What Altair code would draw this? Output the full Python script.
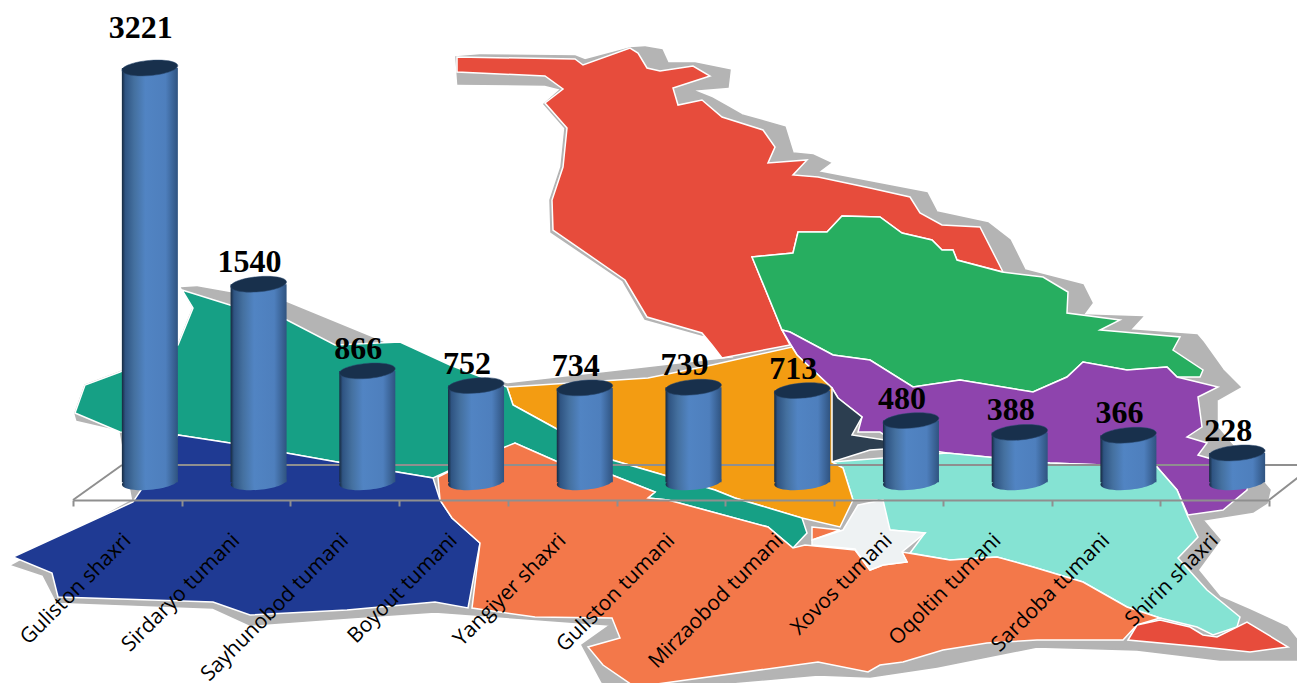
import altair as alt
import pandas as pd

# --- chart values -----------------------------------------------------------
categories = ["Guliston shaxri", "Sirdaryo tumani", "Sayhunobod tumani", "Boyout tumani",
              "Yangiyer shaxri", "Guliston tumani", "Mirzaobod tumani", "Xovos tumani",
              "Oqoltin tumani", "Sardoba tumani", "Shirin shaxri"]
values = [3221, 1540, 866, 752, 734, 739, 713, 480, 388, 366, 228]

# --- backdrop map outlines (picture coordinates) ------------------------------
shadow = [(630,48),(645,47),(662,50),(668,63),(695,63),(730,70),(728,87),(692,90),(712,98),(728,107),(742,115),
          (785,127),(793,153),(813,155),(830,163),(818,172),(870,182),(927,193),(937,212),(988,223),(1010,240),
          (1025,270),(1083,285),(1092,303),(1083,315),(1142,317),(1130,330),(1197,335),(1203,342),(1223,370),
          (1240,387),(1217,400),(1217,427),(1270,490),(1267,503),(1253,512),(1203,520),(1220,540),(1198,570),
          (1220,597),(1250,610),(1287,627),(1305,650),(1297,660),(1220,660),(1137,650),(1037,647),(937,667),
          (870,677),(818,675),(635,691),(602,682),(582,645),(610,625),(435,612),(347,618),(250,625),(213,608),
          (57,602),(43,575),(13,565),(133,500),(120,430),(77,420),(75,413),(85,385),(120,372),(178,345),(193,308),
          (182,288),(197,287),(287,303),(377,340),(445,368),(507,384),(735,358),(712,336),(702,335),(645,319),
          (623,281),(551,232),(550,200),(561,167),(565,128),(544,104),(561,89),(545,85),(458,84),(456,57),
          (480,55),(575,56),(585,60)]
red_north = [(457,57),(575,59),(583,65),(630,48),(638,53),(647,68),(660,71),(693,66),(710,76),(673,88),(678,105),
             (702,100),(722,117),(763,130),(775,147),(768,163),(807,160),(793,175),(818,177),(870,188),(910,197),
             (920,213),(942,225),(980,227),(1003,272),(957,260),(953,250),(942,250),(932,240),(902,233),(880,217),
             (842,216),(827,232),(798,232),(793,253),(752,257),(782,330),(790,345),(722,358),(712,345),(702,333),
             (647,317),(625,280),(553,230),(552,200),(563,167),(567,128),(545,103),(563,89),(545,76),(457,72)]
green = [(752,257),(793,253),(798,232),(827,232),(842,216),(880,217),(902,233),(932,240),(942,250),(953,250),
         (957,260),(1002,272),(1043,277),(1068,292),(1067,313),(1120,320),(1100,330),(1180,337),(1173,350),
         (1203,370),(1200,377),(1177,377),(1167,367),(1127,370),(1083,362),(1067,377),(1033,392),(960,380),
         (913,387),(870,360),(833,355),(790,332),(782,330)]
purple = [(782,330),(790,332),(833,355),(870,360),(913,387),(960,380),(1033,392),(1067,377),(1083,362),(1127,370),
          (1167,367),(1177,377),(1218,387),(1198,397),(1202,427),(1187,437),(1207,443),(1198,455),(1250,470),
          (1247,490),(1223,510),(1188,515),(1177,490),(1157,467),(1050,463),(947,453),(900,445),(880,432),
          (858,432),(862,417),(838,398),(832,388),(797,355)]
slate = [(832,388),(838,398),(862,417),(852,435),(885,440),(900,448),(870,450),(832,462),(790,440)]
amber = [(507,387),(648,378),(712,365),(792,347),(797,355),(832,388),(832,462),(843,468),(853,500),(840,527),
         (802,518),(735,498),(715,490),(612,460),(555,428),(513,405)]
teal_green = [(182,290),(230,305),(287,320),(335,345),(400,342),(450,365),(507,387),(513,405),(555,428),(612,460),
              (715,490),(735,498),(802,518),(807,533),(793,548),(768,527),(668,500),(648,498),(655,492),(612,475),
              (558,462),(515,443),(505,448),(468,462),(433,478),(337,462),(230,443),(178,435),(120,432),(75,413),
              (85,385),(120,372),(178,345),(193,308)]
navy = [(178,435),(230,443),(337,462),(433,478),(440,500),(452,518),(480,543),(468,608),(435,602),(347,610),
        (250,615),(213,602),(58,597),(52,573),(13,557),(133,502)]
coral = [(438,477),(468,462),(505,447),(515,443),(558,462),(612,475),(655,492),(648,498),(668,500),(768,527),
         (793,548),(805,545),(855,550),(870,570),(883,565),(907,562),(902,552),(950,560),(997,557),(1033,567),
         (1083,582),(1127,607),(1160,618),(1137,625),(1123,640),(1037,640),(987,643),(943,650),(903,662),
         (880,665),(868,672),(818,662),(635,687),(603,665),(588,647),(620,638),(612,618),(535,617),(472,608),
         (480,543),(452,518),(440,500)]
coral_sliver = [(812,527),(840,530),(812,540)]
aqua = [(832,462),(947,453),(1050,463),(1157,467),(1177,490),(1188,517),(1198,537),(1178,558),(1207,590),(1240,617),
        (1237,627),(1213,635),(1197,627),(1160,618),(1127,607),(1083,582),(1033,567),(997,557),(950,560),(910,553),
        (925,533),(890,530),(877,500),(853,500),(843,468)]
pale = [(858,505),(883,500),(890,530),(925,533),(902,552),(907,562),(883,565),(870,570),(855,549),(812,545),
        (812,540),(843,530)]
red_south = [(1128,640),(1137,625),(1160,620),(1190,627),(1203,635),(1217,637),(1247,622),(1288,647),(1250,652),(1203,647)]

regions = [shadow, red_north, green, purple, slate, aqua, amber, teal_green, navy, coral, coral_sliver, pale, red_south]
region_fill = ["#b4b4b4", "#e74c3c", "#27ae60", "#8e44ad", "#2c3e50", "#85e3d3", "#f39c12", "#16a085", "#1f3a93",
               "#f3784a", "#f3784a", "#eef2f3", "#e74c3c"]
floor_lines = [[(122,465),(1305,465)], [(73,500),(122,465)], [(1269,500),(1305,472)]]

def ring(pts):
    return [[list(p) for p in pts] + [list(pts[0])]]

features = [{"type": "Feature", "geometry": {"type": "Polygon", "coordinates": ring(r)},
             "properties": {"fill": f, "line": "#ffffff" if i else "#b4b4b4"}}
            for i, (r, f) in enumerate(zip(regions, region_fill))]
line_features = [{"type": "Feature", "properties": {"n": i},
                  "geometry": {"type": "LineString", "coordinates": [list(p) for p in l]}}
                 for i, l in enumerate(floor_lines)]

map_layer = alt.Chart(alt.Data(values=features)).mark_geoshape(strokeWidth=1.5, clip=False).encode(
    fill=alt.Fill("properties.fill:N", scale=None),
    stroke=alt.Stroke("properties.line:N", scale=None),
).project(type="identity", scale=1, translate=[-8, -8])
floor_layer = alt.Chart(alt.Data(values=line_features)).mark_geoshape(
    filled=False, stroke="#8f8f8f", strokeWidth=2, clip=False
).project(type="identity", scale=1, translate=[-8, -8])

df = pd.DataFrame({"category": categories, "value": values, "zero": [0] * len(values)})

x = alt.X("category:N", sort=categories,
          scale=alt.Scale(domain=categories, range=[65, 1261], paddingInner=0, paddingOuter=0),
          axis=alt.Axis(title=None, labelAngle=315, labelAlign="right", labelBaseline="middle",
                        labelFont="Open Sans", labelFontSize=21, labelColor="#000000", labelPadding=31,
                        labelOverlap=False, labelLimit=400, tickBand="extent", tickSize=6, tickWidth=2,
                        tickColor="#8f8f8f", domainColor="#8f8f8f", domainWidth=2, grid=False, zindex=1))
y_scale = alt.Scale(domain=[0, 3221], range=[474.3, 60], nice=False, zero=True)
y = alt.Y("value:Q", scale=y_scale, axis=None)
y0 = alt.Y("zero:Q", scale=y_scale, axis=None)

cyl = alt.LinearGradient(gradient="linear", x1=0, x2=1, y1=0, y2=0, stops=[
    alt.GradientStop(offset=0, color="#16293f"),
    alt.GradientStop(offset=0.06, color="#2f5482"),
    alt.GradientStop(offset=0.22, color="#44709f"),
    alt.GradientStop(offset=0.42, color="#5184c3"),
    alt.GradientStop(offset=0.78, color="#4e7fbd"),
    alt.GradientStop(offset=1, color="#2f5380"),
])
ellipse = "M-1,0A1,0.27,0,1,1,1,0A1,0.27,0,1,1,-1,0Z"
dx = 22.5
base = alt.Chart(df)

bottoms = base.mark_point(shape=ellipse, size=3136, angle=355, filled=True, fill=cyl, opacity=1, xOffset=dx).encode(x=x, y=y0)
bars = base.mark_bar(size=56, fill=cyl, xOffset=dx).encode(x=x, y=y, y2=alt.Y2("zero:Q"))
tops = base.mark_point(shape=ellipse, size=3136, angle=355, filled=True, fill="#18304c", opacity=1,
                       stroke="#2a4a70", strokeWidth=0.5, xOffset=dx).encode(x=x, y=y)
label_style = dict(font="Liberation Serif", fontWeight="bold", fontSize=32, color="#000000",
                   baseline="middle", align="center", xOffset=13.5)
labels = base.transform_filter("datum.value < 3000").mark_text(dy=-22, **label_style).encode(
    x=x, y=y, text=alt.Text("value:Q", format="d"))
label_top = base.transform_filter("datum.value >= 3000").mark_text(dy=-40, **label_style).encode(
    x=x, y=y, text=alt.Text("value:Q", format="d"))

chart = alt.layer(map_layer, floor_layer, bottoms, bars, tops, labels, label_top).properties(
    width=1289, height=492,
    padding={"left": 0, "top": 0, "right": 0, "bottom": 183},
    autosize=alt.AutoSizeParams(type="none"),
    background="#ffffff",
).configure_view(stroke=None)

chart.save("out.html", embed_options={"renderer": "svg", "actions": False})
